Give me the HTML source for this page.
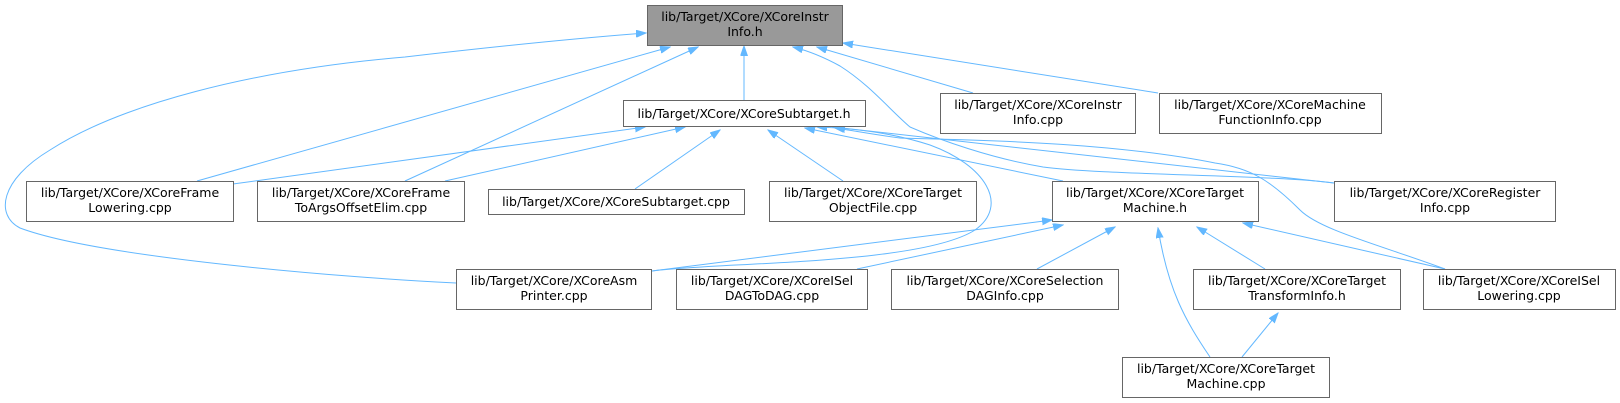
<!DOCTYPE html>
<html><head><meta charset="utf-8"><style>
html,body{margin:0;padding:0;background:#fff;}
svg{display:block;}
text{font-family:"DejaVu Sans","Liberation Sans",sans-serif;font-size:12.5px;fill:#000;text-anchor:middle;}
</style></head><body>
<svg width="1620" height="403" viewBox="0 0 1620 403" xmlns="http://www.w3.org/2000/svg">
<defs><marker id="a" markerWidth="11" markerHeight="8" refX="10" refY="3.5" orient="auto" markerUnits="userSpaceOnUse"><path d="M0,0 L10,3.5 L0,7 z" fill="#63b8ff" stroke="#63b8ff"/></marker></defs>
<g fill="none" stroke="#63b8ff" stroke-width="1" marker-end="url(#a)">
<path d="M744,100 L744,46"/>
<path d="M197,181 L670,47"/>
<path d="M405,181 L698,47"/>
<path d="M456,283 C350,278 100,258 20,228 C-5,215 0,180 50,150 C120,105 250,70 405,57 C500,46 580,38 646,33"/>
<path d="M973,93 L817,47"/>
<path d="M1158,93 L843,43"/>
<path d="M1334,183 C1280,175 1100,175 1043,167 C990,158 940,140 910,127 C890,110 870,85 840,66 C820,55 805,50 793,47"/>
<path d="M233,184 L645,127"/>
<path d="M445,181 L685,127"/>
<path d="M635,189 L720,130"/>
<path d="M843,181 L768,130"/>
<path d="M1063,181 L805,128"/>
<path d="M652,271 C720,262 920,265 975,230 C1010,205 985,165 930,145 C890,132 850,128 817,127"/>
<path d="M1334,183 L833,127"/>
<path d="M1445,269 C1380,245 1320,230 1300,210 C1270,180 1250,168 1215,163 C1100,140 950,140 900,138 C870,134 850,130 835,128"/>
<path d="M652,271 L1052,220"/>
<path d="M857,269 L1063,225"/>
<path d="M1037,269 L1115,227"/>
<path d="M1210,357 C1185,320 1168,290 1158,228"/>
<path d="M1265,269 L1197,227"/>
<path d="M1445,269 L1243,223"/>
<path d="M1242,357 L1278,313"/>
</g>
<g stroke="#666" stroke-width="1">
<rect x="647.5" y="5.5" width="195" height="40" fill="#999"/>
<rect x="623.5" y="100.5" width="242" height="26" fill="#fff"/>
<rect x="940.5" y="93.5" width="195" height="40" fill="#fff"/>
<rect x="1159.5" y="93.5" width="222" height="40" fill="#fff"/>
<rect x="26.5" y="181.5" width="207" height="40" fill="#fff"/>
<rect x="257.5" y="181.5" width="207" height="40" fill="#fff"/>
<rect x="488.5" y="189.5" width="256" height="25" fill="#fff"/>
<rect x="769.5" y="181.5" width="207" height="40" fill="#fff"/>
<rect x="1052.5" y="181.5" width="206" height="40" fill="#fff"/>
<rect x="1334.5" y="181.5" width="221" height="40" fill="#fff"/>
<rect x="456.5" y="269.5" width="195" height="40" fill="#fff"/>
<rect x="676.5" y="269.5" width="191" height="40" fill="#fff"/>
<rect x="891.5" y="269.5" width="227" height="40" fill="#fff"/>
<rect x="1193.5" y="269.5" width="207" height="40" fill="#fff"/>
<rect x="1423.5" y="269.5" width="192" height="40" fill="#fff"/>
<rect x="1122.5" y="357.5" width="207" height="40" fill="#fff"/>
</g>
<text x="745" y="21">lib/Target/XCore/XCoreInstr</text><text x="745" y="36">Info.h</text>
<text x="744" y="118">lib/Target/XCore/XCoreSubtarget.h</text>
<text x="1038" y="109">lib/Target/XCore/XCoreInstr</text><text x="1038" y="124">Info.cpp</text>
<text x="1270" y="109">lib/Target/XCore/XCoreMachine</text><text x="1270" y="124">FunctionInfo.cpp</text>
<text x="130" y="197">lib/Target/XCore/XCoreFrame</text><text x="130" y="212">Lowering.cpp</text>
<text x="361" y="197">lib/Target/XCore/XCoreFrame</text><text x="361" y="212">ToArgsOffsetElim.cpp</text>
<text x="616" y="206">lib/Target/XCore/XCoreSubtarget.cpp</text>
<text x="873" y="197">lib/Target/XCore/XCoreTarget</text><text x="873" y="212">ObjectFile.cpp</text>
<text x="1155" y="197">lib/Target/XCore/XCoreTarget</text><text x="1155" y="212">Machine.h</text>
<text x="1445" y="197">lib/Target/XCore/XCoreRegister</text><text x="1445" y="212">Info.cpp</text>
<text x="554" y="285">lib/Target/XCore/XCoreAsm</text><text x="554" y="300">Printer.cpp</text>
<text x="772" y="285">lib/Target/XCore/XCoreISel</text><text x="772" y="300">DAGToDAG.cpp</text>
<text x="1005" y="285">lib/Target/XCore/XCoreSelection</text><text x="1005" y="300">DAGInfo.cpp</text>
<text x="1297" y="285">lib/Target/XCore/XCoreTarget</text><text x="1297" y="300">TransformInfo.h</text>
<text x="1519" y="285">lib/Target/XCore/XCoreISel</text><text x="1519" y="300">Lowering.cpp</text>
<text x="1226" y="373">lib/Target/XCore/XCoreTarget</text><text x="1226" y="388">Machine.cpp</text>
</svg>
</body></html>
